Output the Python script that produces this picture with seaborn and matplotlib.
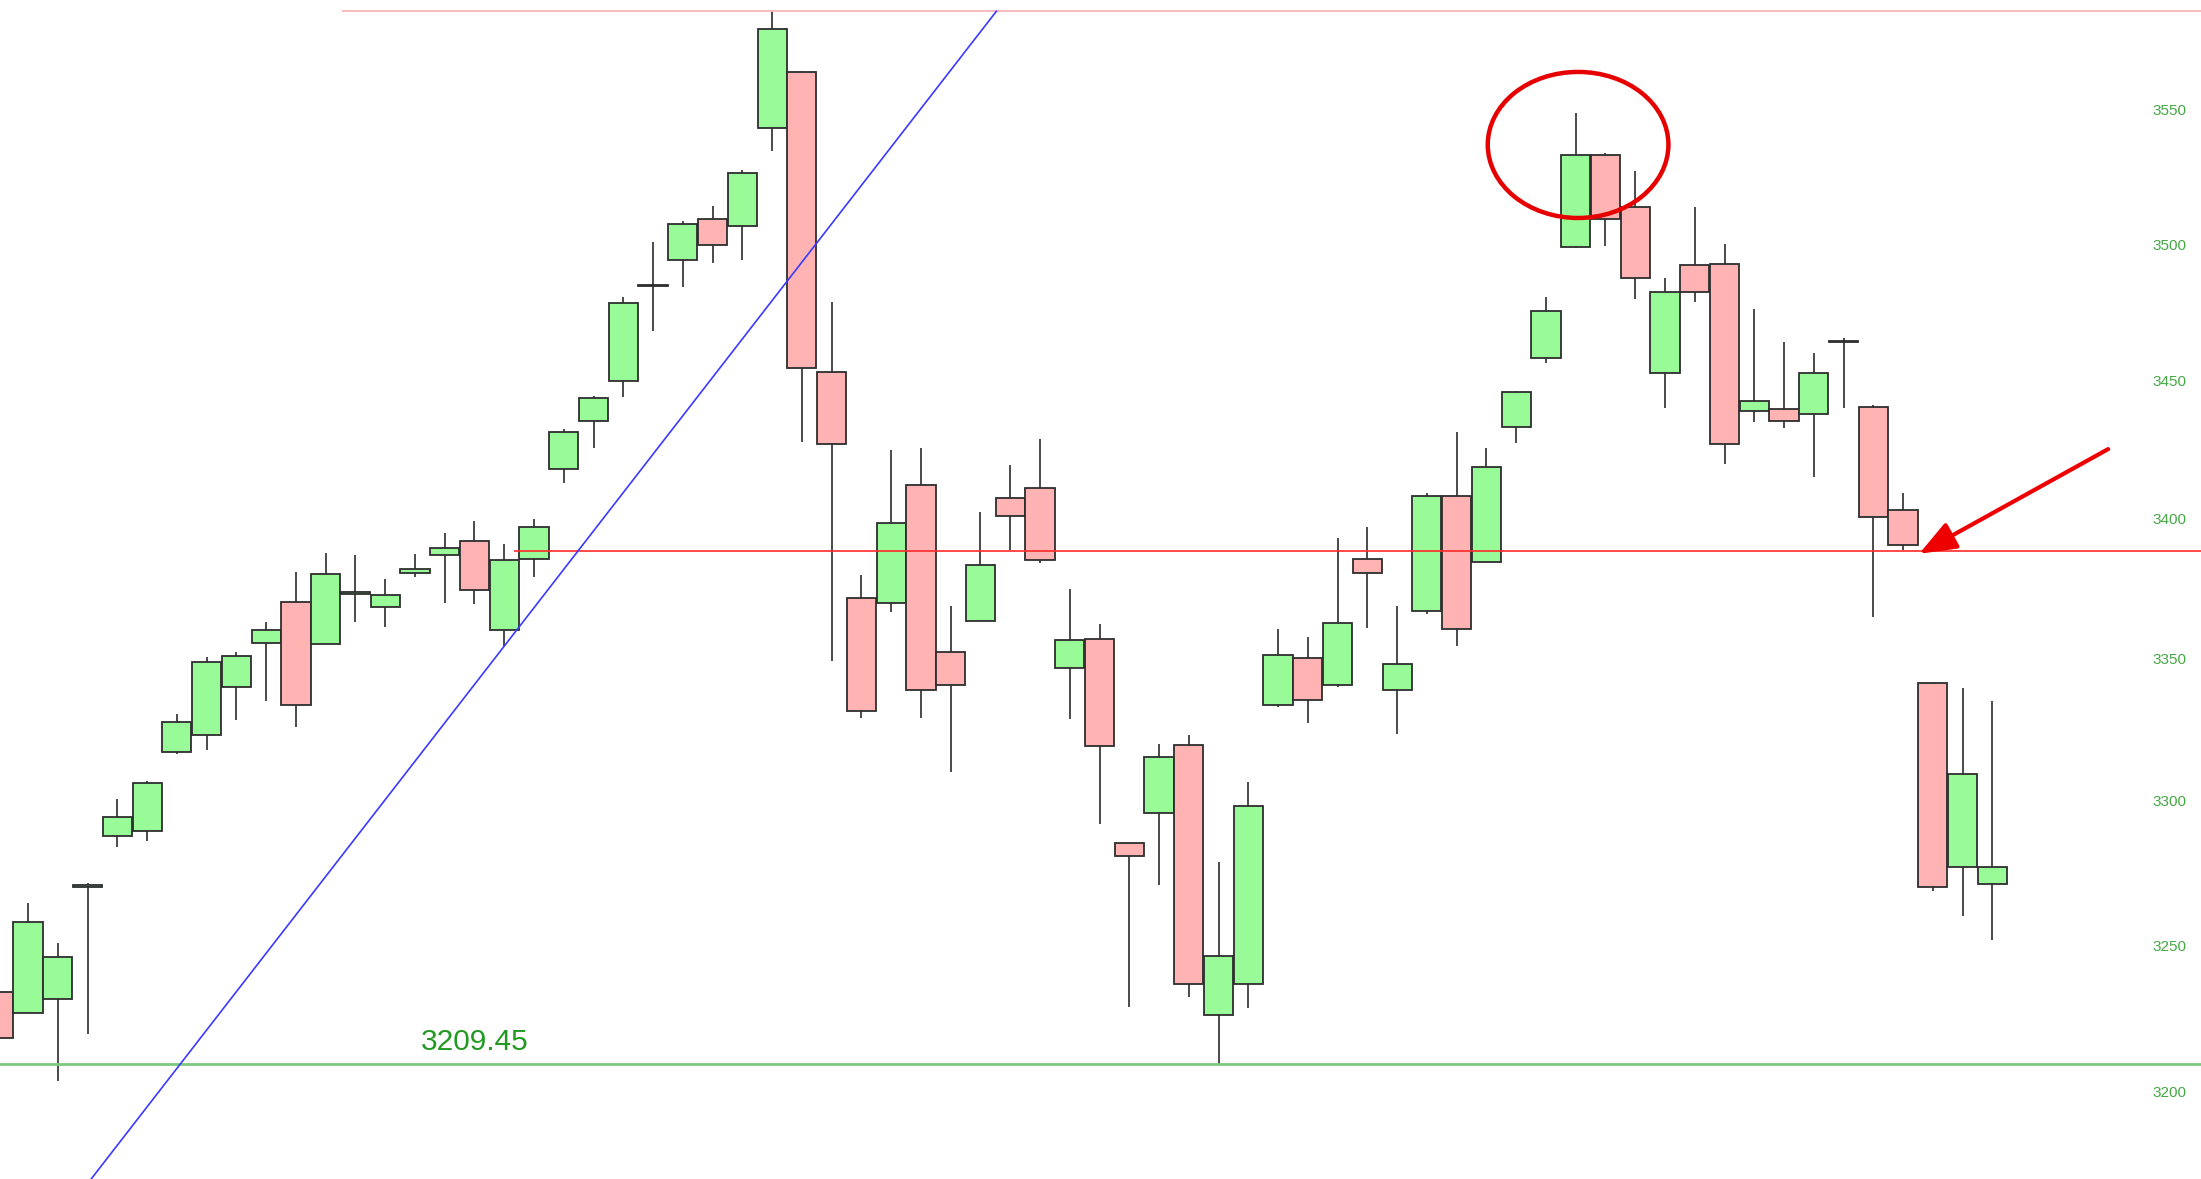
import numpy as np
import matplotlib
matplotlib.use("Agg")
import matplotlib.pyplot as plt
import seaborn as sns
from matplotlib.patches import Ellipse

# -----------------------------
# Candle data (log price axis)
# -----------------------------
opens = [3234.0, 3226.8, 3231.6, 3270.1, 3287.8, 3289.5, 3317.1, 3323.1, 3339.9, 3355.5,
         3370.1, 3355.2, 3373.1, 3368.3, 3380.4, 3386.9, 3391.8, 3360.2, 3385.4, 3417.8,
         3435.2, 3449.8, 3484.4, 3494.1, 3509.3, 3506.8, 3543.3, 3564.3, 3452.9, 3371.6,
         3369.7, 3412.1, 3352.5, 3363.4, 3407.2, 3411.0, 3346.7, 3357.0, 3285.2, 3295.8,
         3319.6, 3226.1, 3236.7, 3333.6, 3350.3, 3340.8, 3385.6, 3338.9, 3366.8, 3408.0,
         3384.4, 3433.1, 3458.0, 3498.9, 3533.2, 3513.9, 3452.6, 3492.2, 3492.7, 3438.8,
         3439.4, 3437.8, 3464.1, 3440.4, 3402.9, 3341.5, 3276.9, 3271.1]
highs = [3235.0, 3264.6, 3250.8, 3271.6, 3300.7, 3307.1, 3330.5, 3350.5, 3352.3, 3363.0,
         3380.8, 3387.6, 3386.9, 3378.3, 3387.2, 3394.8, 3399.1, 3390.8, 3399.8, 3432.2,
         3444.4, 3480.5, 3500.9, 3508.6, 3514.2, 3527.6, 3587.4, 3564.7, 3478.6, 3379.7,
         3424.5, 3425.3, 3368.5, 3402.4, 3419.4, 3428.6, 3374.9, 3362.1, 3285.2, 3319.9,
         3323.1, 3278.7, 3306.7, 3360.5, 3357.5, 3393.1, 3396.9, 3368.5, 3409.2, 3431.2,
         3425.4, 3446.0, 3480.6, 3549.0, 3533.8, 3527.0, 3487.5, 3513.9, 3499.9, 3476.2,
         3463.9, 3459.8, 3465.4, 3440.9, 3409.0, 3341.8, 3339.5, 3335.1]
lows = [3215.9, 3226.8, 3203.7, 3219.7, 3284.0, 3286.0, 3316.4, 3317.8, 3328.3, 3335.0,
        3325.8, 3355.2, 3363.0, 3361.3, 3379.0, 3369.7, 3369.4, 3354.5, 3379.0, 3412.8,
        3425.4, 3443.9, 3468.1, 3484.2, 3493.1, 3494.1, 3534.7, 3427.4, 3349.0, 3329.1,
        3366.5, 3329.1, 3310.1, 3363.4, 3388.8, 3384.0, 3328.6, 3292.1, 3228.8, 3270.7,
        3232.3, 3209.45, 3228.4, 3332.8, 3327.3, 3340.0, 3361.0, 3323.4, 3365.9, 3354.4,
        3384.4, 3427.1, 3456.2, 3498.4, 3499.4, 3479.8, 3439.9, 3478.8, 3419.6, 3434.8,
        3432.7, 3415.0, 3439.9, 3364.8, 3388.8, 3268.6, 3260.0, 3251.8]
closes = [3218.3, 3258.0, 3246.0, 3270.9, 3294.4, 3306.2, 3327.6, 3348.8, 3350.9, 3360.2,
          3333.6, 3380.1, 3373.5, 3372.6, 3381.9, 3389.4, 3374.4, 3385.1, 3397.0, 3431.2,
          3443.4, 3478.3, 3484.8, 3507.5, 3499.7, 3526.4, 3580.5, 3454.6, 3426.7, 3331.5,
          3398.5, 3338.9, 3340.7, 3383.2, 3400.8, 3385.1, 3356.7, 3319.2, 3280.8, 3315.2,
          3236.7, 3246.4, 3298.1, 3351.1, 3335.2, 3362.6, 3380.3, 3348.2, 3408.0, 3360.5,
          3418.6, 3445.7, 3475.3, 3533.2, 3509.3, 3487.5, 3482.4, 3482.4, 3426.7, 3442.4,
          3435.3, 3452.6, 3464.5, 3400.4, 3390.3, 3270.1, 3309.5, 3276.9]

price_ticks = [3200, 3250, 3300, 3350, 3400, 3450, 3500, 3550]
support_level = 3209.45
resistance_level = 3388.3
top_level = 3587.4

# -----------------------------
# Plot
# -----------------------------
sns.set_theme(style="white")
plt.rcParams["font.family"] = ["Liberation Sans", "DejaVu Sans"]

fig = plt.figure(figsize=(22.01, 11.79), dpi=100)
ax = fig.add_axes([0, 0, 1, 1])
ax.set_yscale("log")

x = np.arange(len(opens))
o = np.array(opens)
c = np.array(closes)
up = c >= o
body_colors = np.where(up, "#98fb98", "#ffb3b3")

ax.vlines(x, lows, highs, color="#3c3c3c", lw=1.3, zorder=1)
ax.bar(x, np.maximum(np.abs(c - o), 0.4), bottom=np.minimum(o, c), width=0.98,
       color=body_colors, edgecolor="#2e2e2e", linewidth=1.3, zorder=2)

# horizontal levels
ax.axhline(support_level, color="#7dc87d", lw=2, zorder=3)
ax.hlines(resistance_level, 17.33, 80, color="#ff2a2a", lw=1.2, zorder=3)
ax.hlines(top_level, 11.55, 80, color="#f7b5b5", lw=1.3, zorder=3)
ax.text(14.2, 3216.9, "3209.45", color="#229a22", fontsize=21.5, va="center", ha="left")

# trend line
ax.plot([3.12, 33.54], [3170.7, 3587.3], color="#3a3aff", lw=1.2, zorder=4)

# circle around the top + arrow
ax.add_patch(Ellipse((53.08, 3537.0), 6.07, 54.6, fill=False, ec="#e60000", lw=3.2, zorder=5))
ax.annotate("", xy=(64.54, 3387.3), xytext=(70.89, 3425.0),
            arrowprops=dict(arrowstyle="-|>,head_length=0.9,head_width=0.35",
                            color="#ee0000", lw=3, mutation_scale=25,
                            shrinkA=0, shrinkB=0), zorder=6)

ax.set_xlim(0.057, 74.01)
ax.set_ylim(3170.7, 3591.5)
ax.set_xticks([])
ax.set_yticks(price_ticks, labels=[str(t) for t in price_ticks])
ax.minorticks_off()
ax.yaxis.tick_right()
ax.tick_params(axis="y", length=0, pad=-35.3, labelsize=11, labelcolor="#45a845")
for s in ax.spines.values():
    s.set_visible(False)

fig.savefig("out.png", dpi=100)
